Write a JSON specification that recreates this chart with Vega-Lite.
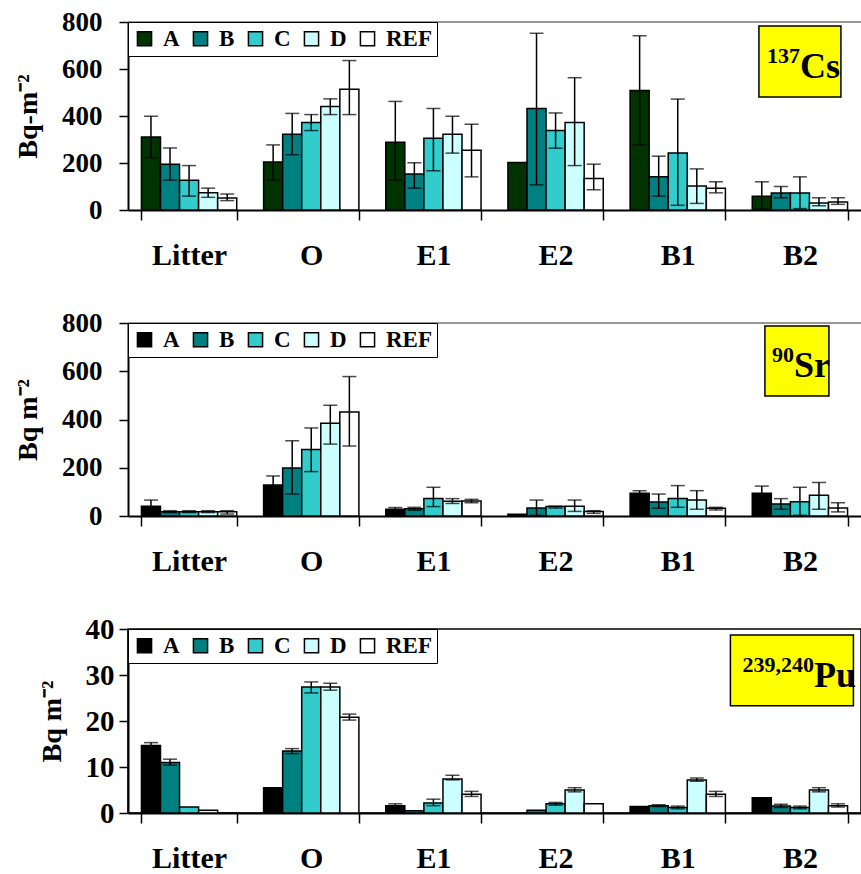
{
  "$schema": "https://vega.github.io/schema/vega-lite/v6.json",
  "padding": {"left": 14, "top": 8, "right": 0, "bottom": 0},
  "background": "white",
  "config": {
    "font": "Liberation Serif",
    "view": {"stroke": null},
    "axis": {"labelFont": "Liberation Serif", "labelFontWeight": "bold", "labelColor": "black", "titleFont": "Liberation Serif", "titleFontWeight": "bold", "titleColor": "black", "domainColor": "black", "tickColor": "black", "grid": false, "domainWidth": 2, "tickWidth": 1.5},
    "axisX": {"labelAngle": 0, "labelFontSize": 30, "tickSize": 10, "tickBand": "extent", "labelPadding": 20, "title": null},
    "axisY": {"labelFontSize": 27, "tickSize": 9, "labelPadding": 17, "titleFontSize": 28, "titlePadding": 19},
    "legend": {"orient": "top-left", "direction": "horizontal", "title": null, "offset": 0, "padding": 5, "strokeColor": "black", "fillColor": "white", "labelFont": "Liberation Serif", "labelFontSize": 23, "labelFontWeight": "bold", "labelColor": "black", "symbolSize": 200, "symbolStrokeColor": "black", "symbolStrokeWidth": 1.5, "symbolType": "square", "columnPadding": 9, "labelOffset": 7},
    "tick": {"orient": "horizontal"}
  },
  "datasets": {
    "cs": [
      {"layer": "Litter", "site": "A", "value": 311, "lo": 223, "hi": 399},
      {"layer": "Litter", "site": "B", "value": 195, "lo": 127, "hi": 264},
      {"layer": "Litter", "site": "C", "value": 127, "lo": 59, "hi": 189},
      {"layer": "Litter", "site": "D", "value": 73, "lo": 54, "hi": 93},
      {"layer": "Litter", "site": "REF", "value": 51, "lo": 40, "hi": 68},
      {"layer": "O", "site": "A", "value": 204, "lo": 127, "hi": 277},
      {"layer": "O", "site": "B", "value": 322, "lo": 235, "hi": 411},
      {"layer": "O", "site": "C", "value": 372, "lo": 338, "hi": 406},
      {"layer": "O", "site": "D", "value": 440, "lo": 406, "hi": 473},
      {"layer": "O", "site": "REF", "value": 514, "lo": 406, "hi": 636},
      {"layer": "E1", "site": "A", "value": 288, "lo": 127, "hi": 462},
      {"layer": "E1", "site": "B", "value": 153, "lo": 93, "hi": 201},
      {"layer": "E1", "site": "C", "value": 305, "lo": 167, "hi": 432},
      {"layer": "E1", "site": "D", "value": 322, "lo": 242, "hi": 399},
      {"layer": "E1", "site": "REF", "value": 254, "lo": 141, "hi": 365},
      {"layer": "E2", "site": "A", "value": 202, "lo": null, "hi": null},
      {"layer": "E2", "site": "B", "value": 432, "lo": 107, "hi": 752},
      {"layer": "E2", "site": "C", "value": 338, "lo": 263, "hi": 413},
      {"layer": "E2", "site": "D", "value": 372, "lo": 189, "hi": 563},
      {"layer": "E2", "site": "REF", "value": 134, "lo": 86, "hi": 195},
      {"layer": "B1", "site": "A", "value": 509, "lo": 277, "hi": 741},
      {"layer": "B1", "site": "B", "value": 141, "lo": 59, "hi": 229},
      {"layer": "B1", "site": "C", "value": 243, "lo": 20, "hi": 472},
      {"layer": "B1", "site": "D", "value": 102, "lo": 28, "hi": 175},
      {"layer": "B1", "site": "REF", "value": 93, "lo": 73, "hi": 120},
      {"layer": "B2", "site": "A", "value": 59, "lo": 3, "hi": 120},
      {"layer": "B2", "site": "B", "value": 72, "lo": 52, "hi": 100},
      {"layer": "B2", "site": "C", "value": 72, "lo": 6, "hi": 141},
      {"layer": "B2", "site": "D", "value": 30, "lo": 18, "hi": 52},
      {"layer": "B2", "site": "REF", "value": 34, "lo": 24, "hi": 52}
    ],
    "sr": [
      {"layer": "Litter", "site": "A", "value": 40, "lo": 14, "hi": 66},
      {"layer": "Litter", "site": "B", "value": 18, "lo": 14, "hi": 22},
      {"layer": "Litter", "site": "C", "value": 18, "lo": 14, "hi": 22},
      {"layer": "Litter", "site": "D", "value": 18, "lo": 14, "hi": 22},
      {"layer": "Litter", "site": "REF", "value": 18, "lo": 8, "hi": 22},
      {"layer": "O", "site": "A", "value": 128, "lo": 90, "hi": 166},
      {"layer": "O", "site": "B", "value": 199, "lo": 91, "hi": 312},
      {"layer": "O", "site": "C", "value": 276, "lo": 184, "hi": 365},
      {"layer": "O", "site": "D", "value": 384, "lo": 298, "hi": 459},
      {"layer": "O", "site": "REF", "value": 431, "lo": 290, "hi": 578},
      {"layer": "E1", "site": "A", "value": 28, "lo": 21, "hi": 35},
      {"layer": "E1", "site": "B", "value": 30, "lo": 24, "hi": 36},
      {"layer": "E1", "site": "C", "value": 73, "lo": 39, "hi": 119},
      {"layer": "E1", "site": "D", "value": 61, "lo": 52, "hi": 72},
      {"layer": "E1", "site": "REF", "value": 62, "lo": 55, "hi": 69},
      {"layer": "E2", "site": "A", "value": 7, "lo": null, "hi": null},
      {"layer": "E2", "site": "B", "value": 33, "lo": 3, "hi": 66},
      {"layer": "E2", "site": "C", "value": 39, "lo": 33, "hi": 41},
      {"layer": "E2", "site": "D", "value": 40, "lo": 19, "hi": 66},
      {"layer": "E2", "site": "REF", "value": 19, "lo": 11, "hi": 22},
      {"layer": "B1", "site": "A", "value": 94, "lo": 83, "hi": 105},
      {"layer": "B1", "site": "B", "value": 58, "lo": 32, "hi": 91},
      {"layer": "B1", "site": "C", "value": 73, "lo": 36, "hi": 126},
      {"layer": "B1", "site": "D", "value": 66, "lo": 28, "hi": 105},
      {"layer": "B1", "site": "REF", "value": 32, "lo": 25, "hi": 36},
      {"layer": "B2", "site": "A", "value": 94, "lo": 64, "hi": 124},
      {"layer": "B2", "site": "B", "value": 50, "lo": 28, "hi": 72},
      {"layer": "B2", "site": "C", "value": 59, "lo": 3, "hi": 119},
      {"layer": "B2", "site": "D", "value": 86, "lo": 28, "hi": 139},
      {"layer": "B2", "site": "REF", "value": 33, "lo": 17, "hi": 55}
    ],
    "pu": [
      {"layer": "Litter", "site": "A", "value": 14.7, "lo": 14.2, "hi": 15.3},
      {"layer": "Litter", "site": "B", "value": 11.0, "lo": 10.4, "hi": 11.7},
      {"layer": "Litter", "site": "C", "value": 1.3, "lo": null, "hi": null},
      {"layer": "Litter", "site": "D", "value": 0.6, "lo": null, "hi": null},
      {"layer": "Litter", "site": "REF", "value": 0, "lo": null, "hi": null},
      {"layer": "O", "site": "A", "value": 5.5, "lo": null, "hi": null},
      {"layer": "O", "site": "B", "value": 13.5, "lo": 12.9, "hi": 14.0},
      {"layer": "O", "site": "C", "value": 27.4, "lo": 26.1, "hi": 28.5},
      {"layer": "O", "site": "D", "value": 27.4, "lo": 26.7, "hi": 28.2},
      {"layer": "O", "site": "REF", "value": 20.8, "lo": 20.2, "hi": 21.5},
      {"layer": "E1", "site": "A", "value": 1.6, "lo": 1.2, "hi": 2.0},
      {"layer": "E1", "site": "B", "value": 0.5, "lo": null, "hi": null},
      {"layer": "E1", "site": "C", "value": 2.2, "lo": 1.6, "hi": 3.0},
      {"layer": "E1", "site": "D", "value": 7.4, "lo": 7.2, "hi": 8.2},
      {"layer": "E1", "site": "REF", "value": 4.1, "lo": 3.6, "hi": 4.7},
      {"layer": "E2", "site": "B", "value": 0.6, "lo": null, "hi": null},
      {"layer": "E2", "site": "C", "value": 2.0, "lo": 1.7, "hi": 2.3},
      {"layer": "E2", "site": "D", "value": 5.0, "lo": 4.6, "hi": 5.5},
      {"layer": "E2", "site": "REF", "value": 2.0, "lo": null, "hi": null},
      {"layer": "B1", "site": "A", "value": 1.4, "lo": null, "hi": null},
      {"layer": "B1", "site": "B", "value": 1.6, "lo": 1.4, "hi": 1.8},
      {"layer": "B1", "site": "C", "value": 1.2, "lo": 0.9, "hi": 1.5},
      {"layer": "B1", "site": "D", "value": 7.2, "lo": 6.9, "hi": 7.6},
      {"layer": "B1", "site": "REF", "value": 4.1, "lo": 3.6, "hi": 4.7},
      {"layer": "B2", "site": "A", "value": 3.3, "lo": null, "hi": null},
      {"layer": "B2", "site": "B", "value": 1.5, "lo": 1.2, "hi": 1.9},
      {"layer": "B2", "site": "C", "value": 1.2, "lo": 0.9, "hi": 1.5},
      {"layer": "B2", "site": "D", "value": 5.0, "lo": 4.6, "hi": 5.5},
      {"layer": "B2", "site": "REF", "value": 1.6, "lo": 1.3, "hi": 2.0}
    ],
    "boxes": [
      {"panel": "cs", "layer": "B2", "ymin": 481, "ymax": 783, "ytext": 562, "sup": "137", "sym": "Cs"},
      {"panel": "sr", "layer": "B2", "ymin": 497, "ymax": 788, "ytext": 576, "sup": "90", "sym": "Sr"},
      {"panel": "pu", "layer": "B2", "ymin": 23.3, "ymax": 38.7, "ytext": 27.4, "sup": "239,240", "sym": "Pu"}
    ]
  },
  "vconcat": [
    {
      "width": 733, "height": 188,
      "layer": [
        {"data": {"name": "cs"}, "mark": {"type": "rule", "color": "#999999", "strokeWidth": 2}, "encoding": {"y": {"datum": 800, "type": "quantitative"}}},
        {"data": {"name": "cs"}, "mark": {"type": "bar", "stroke": "black", "strokeWidth": 1.5},
         "encoding": {
          "x": {"field": "layer", "type": "nominal", "scale": {"domain": ["Litter", "O", "E1", "E2", "B1", "B2"], "paddingInner": 0.22, "paddingOuter": 0.11}},
          "xOffset": {"field": "site", "type": "nominal", "scale": {"domain": ["A", "B", "C", "D", "REF"]}},
          "y": {"field": "value", "type": "quantitative", "scale": {"domain": [0, 800]}, "axis": {"values": [0, 200, 400, 600, 800], "title": "Bq-m⁻²"}},
          "color": {"field": "site", "type": "nominal", "scale": {"domain": ["A", "B", "C", "D", "REF"], "range": ["#003300", "#008080", "#33CCCC", "#CCFFFF", "#FFFFFF"]}, "legend": {"labelFontSize": 23, "labelFontWeight": "bold", "symbolSize": 200, "symbolStrokeColor": "black", "symbolStrokeWidth": 1.5, "padding": 5, "columnPadding": 9, "labelOffset": 7}}
         }},
        {"data": {"name": "cs"}, "mark": {"type": "rule", "color": "black", "strokeWidth": 1.5},
         "encoding": {
          "x": {"field": "layer", "type": "nominal", "scale": {"domain": ["Litter", "O", "E1", "E2", "B1", "B2"], "paddingInner": 0.22, "paddingOuter": 0.11}},
          "xOffset": {"field": "site", "type": "nominal", "scale": {"domain": ["A", "B", "C", "D", "REF"]}},
          "y": {"field": "lo", "type": "quantitative"}, "y2": {"field": "hi"}}},
        {"data": {"name": "cs"}, "mark": {"type": "tick", "color": "black", "thickness": 1.5, "size": 14},
         "encoding": {
          "x": {"field": "layer", "type": "nominal", "scale": {"domain": ["Litter", "O", "E1", "E2", "B1", "B2"], "paddingInner": 0.22, "paddingOuter": 0.11}},
          "xOffset": {"field": "site", "type": "nominal", "scale": {"domain": ["A", "B", "C", "D", "REF"]}},
          "y": {"field": "lo", "type": "quantitative"}}},
        {"data": {"name": "cs"}, "mark": {"type": "tick", "color": "black", "thickness": 1.5, "size": 14},
         "encoding": {
          "x": {"field": "layer", "type": "nominal", "scale": {"domain": ["Litter", "O", "E1", "E2", "B1", "B2"], "paddingInner": 0.22, "paddingOuter": 0.11}},
          "xOffset": {"field": "site", "type": "nominal", "scale": {"domain": ["A", "B", "C", "D", "REF"]}},
          "y": {"field": "hi", "type": "quantitative"}}},
        {"data": {"name": "boxes"}, "transform": [{"filter": "datum.panel == 'cs'"}],
         "mark": {"type": "bar", "fill": "#FFFF00", "stroke": "black", "strokeWidth": 1.5, "width": 82},
         "encoding": {
          "x": {"field": "layer", "type": "nominal", "scale": {"domain": ["Litter", "O", "E1", "E2", "B1", "B2"], "paddingInner": 0.22, "paddingOuter": 0.11}},
          "y": {"field": "ymin", "type": "quantitative"}, "y2": {"field": "ymax"}}},
        {"data": {"name": "boxes"}, "transform": [{"filter": "datum.panel == 'cs'"}],
         "mark": {"type": "text", "align": "left", "baseline": "alphabetic", "fontSize": 36, "fontWeight": "bold", "font": "Liberation Serif", "color": "black", "dx": 0},
         "encoding": {
          "x": {"field": "layer", "type": "nominal", "scale": {"domain": ["Litter", "O", "E1", "E2", "B1", "B2"], "paddingInner": 0.22, "paddingOuter": 0.11}},
          "y": {"field": "ytext", "type": "quantitative"}, "text": {"field": "sym"}}},
        {"data": {"name": "boxes"}, "transform": [{"filter": "datum.panel == 'cs'"}],
         "mark": {"type": "text", "align": "right", "baseline": "alphabetic", "fontSize": 22, "fontWeight": "bold", "font": "Liberation Serif", "color": "black", "dx": 0, "dy": -15},
         "encoding": {
          "x": {"field": "layer", "type": "nominal", "scale": {"domain": ["Litter", "O", "E1", "E2", "B1", "B2"], "paddingInner": 0.22, "paddingOuter": 0.11}},
          "y": {"field": "ytext", "type": "quantitative"}, "text": {"field": "sup"}}}
      ]
    },
    {
      "width": 733, "height": 193,
      "layer": [
        {"data": {"name": "sr"}, "mark": {"type": "rule", "color": "#999999", "strokeWidth": 2}, "encoding": {"y": {"datum": 800, "type": "quantitative"}}},
        {"data": {"name": "sr"}, "mark": {"type": "bar", "stroke": "black", "strokeWidth": 1.5},
         "encoding": {
          "x": {"field": "layer", "type": "nominal", "scale": {"domain": ["Litter", "O", "E1", "E2", "B1", "B2"], "paddingInner": 0.22, "paddingOuter": 0.11}},
          "xOffset": {"field": "site", "type": "nominal", "scale": {"domain": ["A", "B", "C", "D", "REF"]}},
          "y": {"field": "value", "type": "quantitative", "scale": {"domain": [0, 800]}, "axis": {"values": [0, 200, 400, 600, 800], "title": "Bq m⁻²"}},
          "color": {"field": "site", "type": "nominal", "scale": {"domain": ["A", "B", "C", "D", "REF"], "range": ["#000000", "#008080", "#33CCCC", "#CCFFFF", "#FFFFFF"]}, "legend": {"labelFontSize": 23, "labelFontWeight": "bold", "symbolSize": 200, "symbolStrokeColor": "black", "symbolStrokeWidth": 1.5, "padding": 5, "columnPadding": 9, "labelOffset": 7}}
         }},
        {"data": {"name": "sr"}, "mark": {"type": "rule", "color": "black", "strokeWidth": 1.5},
         "encoding": {
          "x": {"field": "layer", "type": "nominal", "scale": {"domain": ["Litter", "O", "E1", "E2", "B1", "B2"], "paddingInner": 0.22, "paddingOuter": 0.11}},
          "xOffset": {"field": "site", "type": "nominal", "scale": {"domain": ["A", "B", "C", "D", "REF"]}},
          "y": {"field": "lo", "type": "quantitative"}, "y2": {"field": "hi"}}},
        {"data": {"name": "sr"}, "mark": {"type": "tick", "color": "black", "thickness": 1.5, "size": 14},
         "encoding": {
          "x": {"field": "layer", "type": "nominal", "scale": {"domain": ["Litter", "O", "E1", "E2", "B1", "B2"], "paddingInner": 0.22, "paddingOuter": 0.11}},
          "xOffset": {"field": "site", "type": "nominal", "scale": {"domain": ["A", "B", "C", "D", "REF"]}},
          "y": {"field": "lo", "type": "quantitative"}}},
        {"data": {"name": "sr"}, "mark": {"type": "tick", "color": "black", "thickness": 1.5, "size": 14},
         "encoding": {
          "x": {"field": "layer", "type": "nominal", "scale": {"domain": ["Litter", "O", "E1", "E2", "B1", "B2"], "paddingInner": 0.22, "paddingOuter": 0.11}},
          "xOffset": {"field": "site", "type": "nominal", "scale": {"domain": ["A", "B", "C", "D", "REF"]}},
          "y": {"field": "hi", "type": "quantitative"}}},
        {"data": {"name": "boxes"}, "transform": [{"filter": "datum.panel == 'sr'"}],
         "mark": {"type": "bar", "fill": "#FFFF00", "stroke": "black", "strokeWidth": 1.5, "width": 64, "xOffset": -3},
         "encoding": {
          "x": {"field": "layer", "type": "nominal", "scale": {"domain": ["Litter", "O", "E1", "E2", "B1", "B2"], "paddingInner": 0.22, "paddingOuter": 0.11}},
          "y": {"field": "ymin", "type": "quantitative"}, "y2": {"field": "ymax"}}},
        {"data": {"name": "boxes"}, "transform": [{"filter": "datum.panel == 'sr'"}],
         "mark": {"type": "text", "align": "left", "baseline": "alphabetic", "fontSize": 36, "fontWeight": "bold", "font": "Liberation Serif", "color": "black", "dx": -6},
         "encoding": {
          "x": {"field": "layer", "type": "nominal", "scale": {"domain": ["Litter", "O", "E1", "E2", "B1", "B2"], "paddingInner": 0.22, "paddingOuter": 0.11}},
          "y": {"field": "ytext", "type": "quantitative"}, "text": {"field": "sym"}}},
        {"data": {"name": "boxes"}, "transform": [{"filter": "datum.panel == 'sr'"}],
         "mark": {"type": "text", "align": "right", "baseline": "alphabetic", "fontSize": 22, "fontWeight": "bold", "font": "Liberation Serif", "color": "black", "dx": -6, "dy": -15},
         "encoding": {
          "x": {"field": "layer", "type": "nominal", "scale": {"domain": ["Litter", "O", "E1", "E2", "B1", "B2"], "paddingInner": 0.22, "paddingOuter": 0.11}},
          "y": {"field": "ytext", "type": "quantitative"}, "text": {"field": "sup"}}}
      ]
    },
    {
      "width": 733, "height": 184,
      "view": {"stroke": "black", "strokeWidth": 1.5},
      "layer": [
        {"data": {"name": "pu"}, "mark": {"type": "bar", "stroke": "black", "strokeWidth": 1.5},
         "encoding": {
          "x": {"field": "layer", "type": "nominal", "scale": {"domain": ["Litter", "O", "E1", "E2", "B1", "B2"], "paddingInner": 0.22, "paddingOuter": 0.11}},
          "xOffset": {"field": "site", "type": "nominal", "scale": {"domain": ["A", "B", "C", "D", "REF"]}},
          "y": {"field": "value", "type": "quantitative", "scale": {"domain": [0, 40]}, "axis": {"values": [0, 10, 20, 30, 40], "title": "Bq m⁻²", "labelPadding": 5, "labelFontSize": 29}},
          "color": {"field": "site", "type": "nominal", "scale": {"domain": ["A", "B", "C", "D", "REF"], "range": ["#000000", "#008080", "#33CCCC", "#CCFFFF", "#FFFFFF"]}, "legend": {"labelFontSize": 23, "labelFontWeight": "bold", "symbolSize": 200, "symbolStrokeColor": "black", "symbolStrokeWidth": 1.5, "padding": 5, "columnPadding": 9, "labelOffset": 7}}
         }},
        {"data": {"name": "pu"}, "mark": {"type": "rule", "color": "black", "strokeWidth": 1.5},
         "encoding": {
          "x": {"field": "layer", "type": "nominal", "scale": {"domain": ["Litter", "O", "E1", "E2", "B1", "B2"], "paddingInner": 0.22, "paddingOuter": 0.11}},
          "xOffset": {"field": "site", "type": "nominal", "scale": {"domain": ["A", "B", "C", "D", "REF"]}},
          "y": {"field": "lo", "type": "quantitative"}, "y2": {"field": "hi"}}},
        {"data": {"name": "pu"}, "mark": {"type": "tick", "color": "black", "thickness": 1.5, "size": 14},
         "encoding": {
          "x": {"field": "layer", "type": "nominal", "scale": {"domain": ["Litter", "O", "E1", "E2", "B1", "B2"], "paddingInner": 0.22, "paddingOuter": 0.11}},
          "xOffset": {"field": "site", "type": "nominal", "scale": {"domain": ["A", "B", "C", "D", "REF"]}},
          "y": {"field": "lo", "type": "quantitative"}}},
        {"data": {"name": "pu"}, "mark": {"type": "tick", "color": "black", "thickness": 1.5, "size": 14},
         "encoding": {
          "x": {"field": "layer", "type": "nominal", "scale": {"domain": ["Litter", "O", "E1", "E2", "B1", "B2"], "paddingInner": 0.22, "paddingOuter": 0.11}},
          "xOffset": {"field": "site", "type": "nominal", "scale": {"domain": ["A", "B", "C", "D", "REF"]}},
          "y": {"field": "hi", "type": "quantitative"}}},
        {"data": {"name": "boxes"}, "transform": [{"filter": "datum.panel == 'pu'"}],
         "mark": {"type": "bar", "fill": "#FFFF00", "stroke": "black", "strokeWidth": 1.5, "width": 123, "xOffset": -8},
         "encoding": {
          "x": {"field": "layer", "type": "nominal", "scale": {"domain": ["Litter", "O", "E1", "E2", "B1", "B2"], "paddingInner": 0.22, "paddingOuter": 0.11}},
          "y": {"field": "ymin", "type": "quantitative"}, "y2": {"field": "ymax"}}},
        {"data": {"name": "boxes"}, "transform": [{"filter": "datum.panel == 'pu'"}],
         "mark": {"type": "text", "align": "left", "baseline": "alphabetic", "fontSize": 36, "fontWeight": "bold", "font": "Liberation Serif", "color": "black", "dx": 14},
         "encoding": {
          "x": {"field": "layer", "type": "nominal", "scale": {"domain": ["Litter", "O", "E1", "E2", "B1", "B2"], "paddingInner": 0.22, "paddingOuter": 0.11}},
          "y": {"field": "ytext", "type": "quantitative"}, "text": {"field": "sym"}}},
        {"data": {"name": "boxes"}, "transform": [{"filter": "datum.panel == 'pu'"}],
         "mark": {"type": "text", "align": "right", "baseline": "alphabetic", "fontSize": 22, "fontWeight": "bold", "font": "Liberation Serif", "color": "black", "dx": 14, "dy": -15},
         "encoding": {
          "x": {"field": "layer", "type": "nominal", "scale": {"domain": ["Litter", "O", "E1", "E2", "B1", "B2"], "paddingInner": 0.22, "paddingOuter": 0.11}},
          "y": {"field": "ytext", "type": "quantitative"}, "text": {"field": "sup"}}}
      ]
    }
  ],
  "spacing": 113,
  "bounds": "flush",
  "resolve": {"scale": {"color": "independent", "y": "independent", "x": "independent", "xOffset": "independent"}, "legend": {"color": "independent"}, "axis": {"x": "independent", "y": "independent"}}
}
